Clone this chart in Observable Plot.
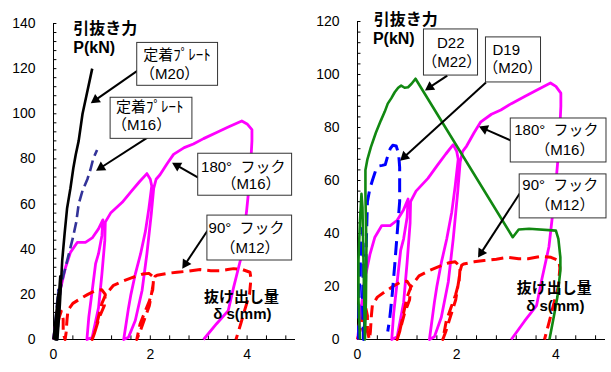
<!DOCTYPE html>
<html>
<head>
<meta charset="utf-8">
<script src="https://cdn.jsdelivr.net/npm/d3@7"></script>
<script src="https://cdn.jsdelivr.net/npm/@observablehq/plot@0.6"></script>
<style>
  body { margin: 0; background: white; }
  #wrap { position: relative; width: 611px; height: 372px; background: white; overflow: hidden; }
  #left, #right { position: absolute; top: 0; }
  #left { left: 0; }
  #right { left: 305px; }
</style>
</head>
<body>
<div id="wrap"><div id="left"></div><div id="right"></div></div>
<script>
// ---- tick values ----
const xTicks = [0, 2, 4];
const xMinor = [0.4, 0.8, 1.2, 1.6, 2.0, 2.4, 2.8, 3.2, 3.6, 4.0, 4.4, 4.8];
const yTicksLeft = [0, 20, 40, 60, 80, 100, 120, 140];
const yTicksRight = [0, 20, 40, 60, 80, 100, 120];
const yMinorLeft = d3.range(0, 141, 4);
const yMinorRight = d3.range(0, 121, 4);

// ---- series: [slip δs (mm), pull-out force P (kN)] ----
const plateM20 = [[0,0],[0.05,10],[0.1,20],[0.07,10],[0.04,0],[0.08,10],[0.14,28],[0.11,15],[0.08,0],[0.13,15],[0.18,35],[0.23,47],[0.28,58],[0.35,67],[0.41,76],[0.46,82],[0.52,88],[0.6,100],[0.68,108],[0.8,120]];
const plateM16 = [[0,0],[0.04,8],[0.07,15],[0.1,22],[0.08,10],[0.07,0],[0.1,8],[0.14,22],[0.2,28],[0.26,33],[0.33,39],[0.4,45],[0.47,52],[0.52,60],[0.6,66],[0.7,71],[0.76,75],[0.82,80],[0.9,84]];
const hook180M16 = [[0,0],[0.05,8],[0.1,16],[0.14,22],[0.25,32],[0.35,38.6],[0.49,43],[0.66,43],[0.8,45],[0.93,49],[1.02,53],[1.0,46],[0.93,38],[0.87,33.6],[0.8,21.7],[0.73,10],[0.69,0],
  [0.8,1],[0.93,14],[1.0,29],[1.06,43.8],[1.07,52],[1.18,56],[1.42,60.8],[1.62,66],[1.78,70],[1.93,73.5],[2.0,71],[2.03,68],[1.97,58],[1.9,48],[1.8,38],[1.69,29],[1.6,20],[1.55,14],[1.5,7],[1.45,0],
  [1.55,1],[1.69,8.4],[1.83,21.7],[1.93,38],[2.02,55.6],[2.07,67],[2.12,71],[2.2,73],[2.35,78],[2.48,82],[2.7,85],[2.89,86.6],[3.1,89],[3.37,91.7],[3.6,94],[3.89,96.8],[4.0,95.5],[4.1,93],[4.1,88],[4.06,72],[3.99,57],[3.92,45],[3.86,35],[3.72,23],[3.61,12.8],[3.37,7],[3.1,0]];
const hook90M12 = [[0,0],[0.06,4],[0.12,10],[0.16,12.5],[0.2,9],[0.2,3],[0.24,0],
  [0.26,3],[0.28,9],[0.3,13],[0.4,16],[0.55,18],[0.71,20],[0.87,21.7],[1.0,22],[1.07,20],[1.05,15],[0.95,10],[0.85,3],[0.8,0],
  [0.85,3],[0.93,10],[1.0,16],[1.08,20],[1.24,24],[1.45,26],[1.65,27.6],[1.85,29],[1.97,29.3],[2.07,27.6],[2.05,22],[1.98,17],[1.9,12.8],[1.79,7],[1.72,0],
  [1.78,3],[1.88,9],[1.98,15],[2.04,22],[2.07,26],[2.1,28],[2.14,28.5],[2.35,29.3],[2.55,29.8],[2.8,30.3],[3.03,31],[3.25,30.5],[3.44,30.5],[3.6,31],[3.72,31.4],[3.9,31],[4.06,29.8],[4.08,27],[4.05,20],[3.95,13],[3.87,7],[3.77,0]];
const d22M22 = [[0.05,0],[0.02,15],[0.02,30],[0.05,45],[0.08,55],[0.1,50],[0.12,30],[0.14,10],[0.15,0],[0.17,15],[0.18,35],[0.16,55],[0.16,64],[0.2,68],[0.27,72.6],[0.37,78],[0.47,82.6],[0.55,86],[0.61,89],[0.68,91],[0.75,93.3],[0.82,95],[0.88,95.8],[0.95,95],[1.02,95.2],[1.09,96.5],[1.17,98.4],[3.13,38.6],[3.25,41.5],[3.46,41.8],[4.0,41.1],[4.05,38],[4.09,31],[4.09,26],[4.03,16],[3.97,9.8],[3.87,0]];
const d19M20 = [[0.02,0],[0.03,15],[0.06,30],[0.1,42],[0.12,30],[0.1,15],[0.12,0],[0.14,5],[0.16,20],[0.18,38],[0.2,52],[0.25,57],[0.3,60],[0.37,64],[0.44,65.5],[0.5,65.7],[0.56,66],[0.62,70],[0.66,72],[0.71,73.3],[0.78,73],[0.83,70],[0.85,65],[0.85,52],[0.8,40],[0.75,28],[0.7,17],[0.65,8],[0.61,3]];

// ---- label texts ----
const yTitle = ["引抜き力", "P(kN)"];
const xTitle = ["抜け出し量", "δ s(mm)"];

const FONT = "'Liberation Sans', Arial, 'Noto Sans CJK JP', sans-serif";
const JFONT = "'Liberation Sans', Arial, 'Noto Sans CJK JP', sans-serif";

function panel(opt) {
  const {width, marginLeft, marginRight, marginTop, yMax, yTicks, yMinor, series, boxes, labels, arrows, titles, tickLen} = opt;
  const marginBottom = 33, height = 372;
  // pixel-per-unit factors, used only to orient the arrowheads
  const kx = (width - marginLeft - marginRight) / 5;
  const ky = (height - marginTop - marginBottom) / yMax;
  const R = 3.8, back = 1.555 * R;
  const heads = arrows.map(a => {
    const dxp = (a.x2 - a.x1) * kx, dyp = -(a.y2 - a.y1) * ky;
    const len = Math.hypot(dxp, dyp);
    const ux = dxp / len, uy = dyp / len;
    return {
      x1: a.x1, y1: a.y1,
      cx: a.x2 - ux * back / kx, cy: a.y2 + uy * back / ky,
      rot: Math.atan2(ux, -uy) * 180 / Math.PI
    };
  });
  const marks = [
    Plot.axisX(xTicks, {tickSize: 0, tickPadding: 10, label: null, fontSize: 14}),
    Plot.axisY(yTicks, {tickSize: 0, tickPadding: 18, label: null, fontSize: 14}),
    Plot.ruleY(yMinor, {y: d => d, x1: 0, x2: tickLen.y, stroke: "black", strokeWidth: 1}),
    Plot.ruleX(xMinor, {x: d => d, y1: 0, y2: tickLen.x, stroke: "black", strokeWidth: 1}),
    Plot.ruleX([0], {stroke: "black", strokeWidth: 1}),
    Plot.ruleY([0], {stroke: "black", strokeWidth: 1})
  ];
  for (const s of series) {
    marks.push(Plot.line(s.data, {x: d => d[0], y: d => d[1], stroke: s.color, strokeWidth: s.width, strokeDasharray: s.dash, strokeLinejoin: "round", strokeLinecap: "butt"}));
  }
  marks.push(Plot.link(heads, {x1: "x1", y1: "y1", x2: "cx", y2: "cy", stroke: "black", strokeWidth: 2}));
  marks.push(Plot.dot(heads, {x: "cx", y: "cy", symbol: "triangle", r: R, rotate: "rot", fill: "black", stroke: "none"}));
  marks.push(Plot.rect(boxes, {x1: "x1", x2: "x2", y1: "y1", y2: "y2", fill: "white", stroke: "#333", strokeWidth: 1}));
  marks.push(Plot.text(labels, {x: "x", y: "y", text: "t", fontSize: 15, fontFamily: JFONT, fill: "black"}));
  marks.push(Plot.text(titles, {x: "x", y: "y", text: "t", fontSize: "fs", textAnchor: "start", fontWeight: "bold", fontFamily: JFONT, fill: "black"}));
  return Plot.plot({
    width, height, marginLeft, marginRight, marginTop, marginBottom,
    x: {domain: [0, 5]}, y: {domain: [0, yMax]},
    style: {fontFamily: FONT, fontSize: "14px", background: "white", color: "black", overflow: "visible"},
    marks
  });
}

// Left panel
document.getElementById("left").append(panel({
  width: 305, marginLeft: 53, marginRight: 10, marginTop: 23,
  yMax: 140, yTicks: yTicksLeft, yMinor: yMinorLeft, tickLen: {x: 1.6, y: 0.07},
  series: [
    {data: hook180M16, color: "#ff00ff", width: 2.8},
    {data: hook90M12, color: "#ff0000", width: 3, dash: "12,6"},
    {data: plateM16, color: "#333399", width: 2.6, dash: "11,5"},
    {data: plateM20, color: "black", width: 2.6}
  ],
  boxes: [
    {x1: 1.73, x2: 3.40, y1: 112.4, y2: 131.4},
    {x1: 1.18, x2: 2.87, y1: 88.9, y2: 107.1},
    {x1: 2.99, x2: 4.93, y1: 63.7, y2: 82.3},
    {x1: 3.18, x2: 4.93, y1: 35.0, y2: 54.9}
  ],
  labels: [
    {x: 2.55, y: 125.8, t: "定着ﾌﾟﾚｰﾄ"}, {x: 2.40, y: 117.7, t: "（M20）"},
    {x: 1.99, y: 103.0, t: "定着ﾌﾟﾚｰﾄ"}, {x: 1.82, y: 95.0, t: "（M16）"},
    {x: 3.92, y: 76.5, t: "180°  フック"}, {x: 4.08, y: 68.6, t: "（M16）"},
    {x: 3.99, y: 49.1, t: "90°  フック"}, {x: 4.06, y: 40.5, t: "（M12）"}
  ],
  arrows: [
    {x1: 1.73, y1: 119, x2: 0.77, y2: 104.7},
    {x1: 1.94, y1: 89.4, x2: 0.88, y2: 74.8},
    {x1: 2.99, y1: 71.7, x2: 2.45, y2: 78.3},
    {x1: 3.18, y1: 48.2, x2: 2.66, y2: 31.4}
  ],
  titles: [
    {x: 0.41, y: 137.6, t: yTitle[0], fs: 16}, {x: 0.41, y: 129.0, t: yTitle[1], fs: 16},
    {x: 3.11, y: 18.6, t: xTitle[0], fs: 15}, {x: 3.30, y: 11.1, t: xTitle[1], fs: 15}
  ]
}));

// Right panel
document.getElementById("right").append(panel({
  width: 306, marginLeft: 52, marginRight: 6, marginTop: 21,
  yMax: 120, yTicks: yTicksRight, yMinor: yMinorRight, tickLen: {x: 1.4, y: 0.07},
  series: [
    {data: hook180M16, color: "#ff00ff", width: 2.8},
    {data: hook90M12, color: "#ff0000", width: 3, dash: "12,6"},
    {data: d19M20, color: "#0000ff", width: 3, dash: "14,7"},
    {data: d22M22, color: "#118811", width: 2.6}
  ],
  boxes: [
    {x1: 1.34, x2: 2.43, y1: 99.6, y2: 117},
    {x1: 2.59, x2: 3.70, y1: 97, y2: 114},
    {x1: 3.09, x2: 5.02, y1: 66.8, y2: 83.4},
    {x1: 3.27, x2: 5.02, y1: 45.7, y2: 62.3}
  ],
  labels: [
    {x: 1.88, y: 111.7, t: "D22"}, {x: 1.90, y: 104.6, t: "（M22）"},
    {x: 3.00, y: 109.3, t: "D19"}, {x: 3.13, y: 102.2, t: "（M20）"},
    {x: 4.01, y: 78.9, t: "180°  フック"}, {x: 4.18, y: 71.3, t: "（M16）"},
    {x: 4.09, y: 58.1, t: "90°  フック"}, {x: 4.18, y: 50.6, t: "（M12）"}
  ],
  arrows: [
    {x1: 1.81, y1: 99.6, x2: 1.36, y2: 94},
    {x1: 2.59, y1: 97, x2: 0.86, y2: 67.5},
    {x1: 3.09, y1: 75.1, x2: 2.45, y2: 80.4},
    {x1: 3.27, y1: 55.1, x2: 2.43, y2: 30.9}
  ],
  titles: [
    {x: 0.33, y: 120.6, t: yTitle[0], fs: 16}, {x: 0.31, y: 113.4, t: yTitle[1], fs: 16},
    {x: 3.21, y: 19.2, t: xTitle[0], fs: 15}, {x: 3.40, y: 12.5, t: xTitle[1], fs: 15}
  ]
}));
</script>
</body>
</html>
